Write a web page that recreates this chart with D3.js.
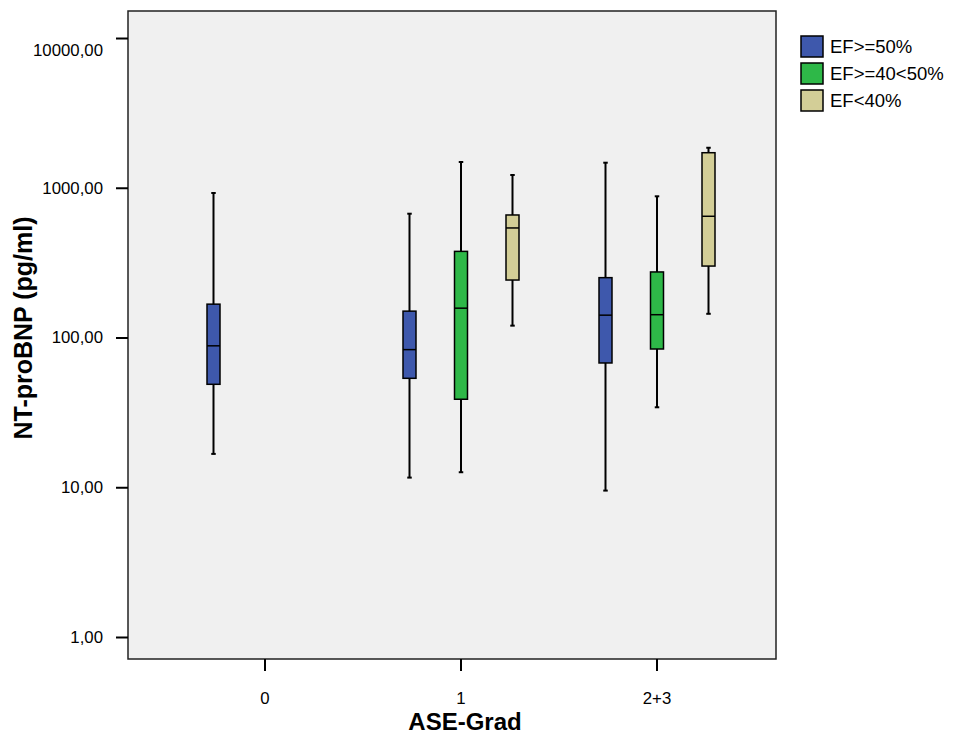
<!DOCTYPE html>
<html>
<head>
    <title>NT-proBNP Boxplot</title>
    <script src="https://d3js.org/d3.v7.min.js"></script>
    <style>
        body { margin: 0; background: #fff; }
        text { font-family: "Liberation Sans", Arial, sans-serif; }
    </style>
</head>
<body>
<svg width="957" height="736"></svg>
<script>
    // ASE grade groups and EF series
    const groups = ["0", "1", "2+3"];
    const series = ["EF>=50%", "EF>=40<50%", "EF<40%"];
    const colors = ["#3E58AC", "#2EB848", "#D3CE97"];

    // [whisker low, Q1, median, Q3, whisker high] per group, null = no box
    const efHigh = [[16.7, 48.7, 88, 167, 923], [11.6, 53.4, 83, 150, 671], [9.5, 67.6, 141, 251, 1470]];
    const efMid = [null, [12.6, 38.7, 157, 376, 1486], [34.2, 83.8, 142, 274, 877]];
    const efLow = [null, [120, 242, 539, 658, 1217], [144, 300, 645, 1714, 1850]];
    const seriesValues = [efHigh, efMid, efLow];

    const yTicks = [1, 10, 100, 1000, 10000];

    const width = 957;
    const height = 736;
    const plot = {left: 128, right: 776, top: 11, bottom: 659};

    const svg = d3.select("svg")
        .attr("width", width)
        .attr("height", height);

    const y = d3.scaleLog()
        .domain([0.713, 15150])
        .range([plot.bottom, plot.top]);

    const x = d3.scaleBand()
        .domain(groups)
        .range([167, 755]);

    const xInner = d3.scaleBand()
        .domain(series)
        .range([-77.25, 77.25]);

    const fmt = d3.formatLocale({decimal: ",", thousands: ".", grouping: [3], currency: ["", ""]}).format(".2f");

    // plot background
    svg.append("rect")
        .attr("x", plot.left)
        .attr("y", plot.top)
        .attr("width", plot.right - plot.left)
        .attr("height", plot.bottom - plot.top)
        .attr("fill", "#F0F0F0")
        .attr("stroke", "#222")
        .attr("stroke-width", 1.5);

    // y axis
    const yAxis = svg.append("g")
        .attr("transform", "translate(" + plot.left + ",0)")
        .call(d3.axisLeft(y).tickValues(yTicks).tickFormat(fmt).tickSize(12).tickPadding(13));
    yAxis.select(".domain").remove();
    yAxis.selectAll(".tick line").attr("stroke", "#000").attr("stroke-width", 2);
    yAxis.selectAll(".tick text")
        .attr("fill", "#000")
        .style("font-size", "16.8px")
        .attr("dy", (d) => d === 10000 ? "1.05em" : "0.32em");

    // x axis
    const xAxis = svg.append("g")
        .attr("transform", "translate(0," + plot.bottom + ")")
        .call(d3.axisBottom(x).tickSize(12).tickPadding(21));
    xAxis.select(".domain").remove();
    xAxis.selectAll(".tick line").attr("stroke", "#000").attr("stroke-width", 2);
    xAxis.selectAll(".tick text")
        .attr("fill", "#000")
        .style("font-size", "16.8px");

    // boxes
    const boxW = 13;
    const capW = 4.5;
    series.forEach((s, si) => {
        seriesValues[si].forEach((v, gi) => {
            if (!v) return;
            const cx = x(groups[gi]) + x.bandwidth() / 2 + xInner(s) + xInner.bandwidth() / 2;
            const g = svg.append("g");
            g.append("line")
                .attr("x1", cx).attr("x2", cx)
                .attr("y1", y(v[0])).attr("y2", y(v[4]))
                .attr("stroke", "#000").attr("stroke-width", 2);
            [v[0], v[4]].forEach(w => {
                g.append("line")
                    .attr("x1", cx - capW / 2).attr("x2", cx + capW / 2)
                    .attr("y1", y(w)).attr("y2", y(w))
                    .attr("stroke", "#000").attr("stroke-width", 2);
            });
            g.append("rect")
                .attr("x", cx - boxW / 2)
                .attr("y", y(v[3]))
                .attr("width", boxW)
                .attr("height", y(v[1]) - y(v[3]))
                .attr("fill", colors[si])
                .attr("stroke", "#000")
                .attr("stroke-width", 1.5);
            g.append("line")
                .attr("x1", cx - boxW / 2).attr("x2", cx + boxW / 2)
                .attr("y1", y(v[2])).attr("y2", y(v[2]))
                .attr("stroke", "#000").attr("stroke-width", 1.5);
        });
    });

    // axis titles
    svg.append("text")
        .attr("transform", "translate(32,328) rotate(-90)")
        .attr("text-anchor", "middle")
        .style("font-size", "25px")
        .style("font-weight", "bold")
        .text("NT-proBNP (pg/ml)");

    svg.append("text")
        .attr("x", 465)
        .attr("y", 730)
        .attr("text-anchor", "middle")
        .style("font-size", "24px")
        .style("font-weight", "bold")
        .text("ASE-Grad");

    // legend
    const legend = svg.append("g")
        .attr("transform", "translate(801,36)");
    const items = legend.selectAll("g")
        .data(series)
        .enter().append("g")
        .attr("transform", (d, i) => "translate(0," + i * 27 + ")");
    items.append("rect")
        .attr("width", 22)
        .attr("height", 21)
        .attr("fill", (d, i) => colors[i])
        .attr("stroke", "#000")
        .attr("stroke-width", 1.5);
    items.append("text")
        .attr("x", 29)
        .attr("y", 11)
        .attr("dy", "0.35em")
        .style("font-size", "18.5px")
        .text(d => d);
</script>
</body>
</html>
